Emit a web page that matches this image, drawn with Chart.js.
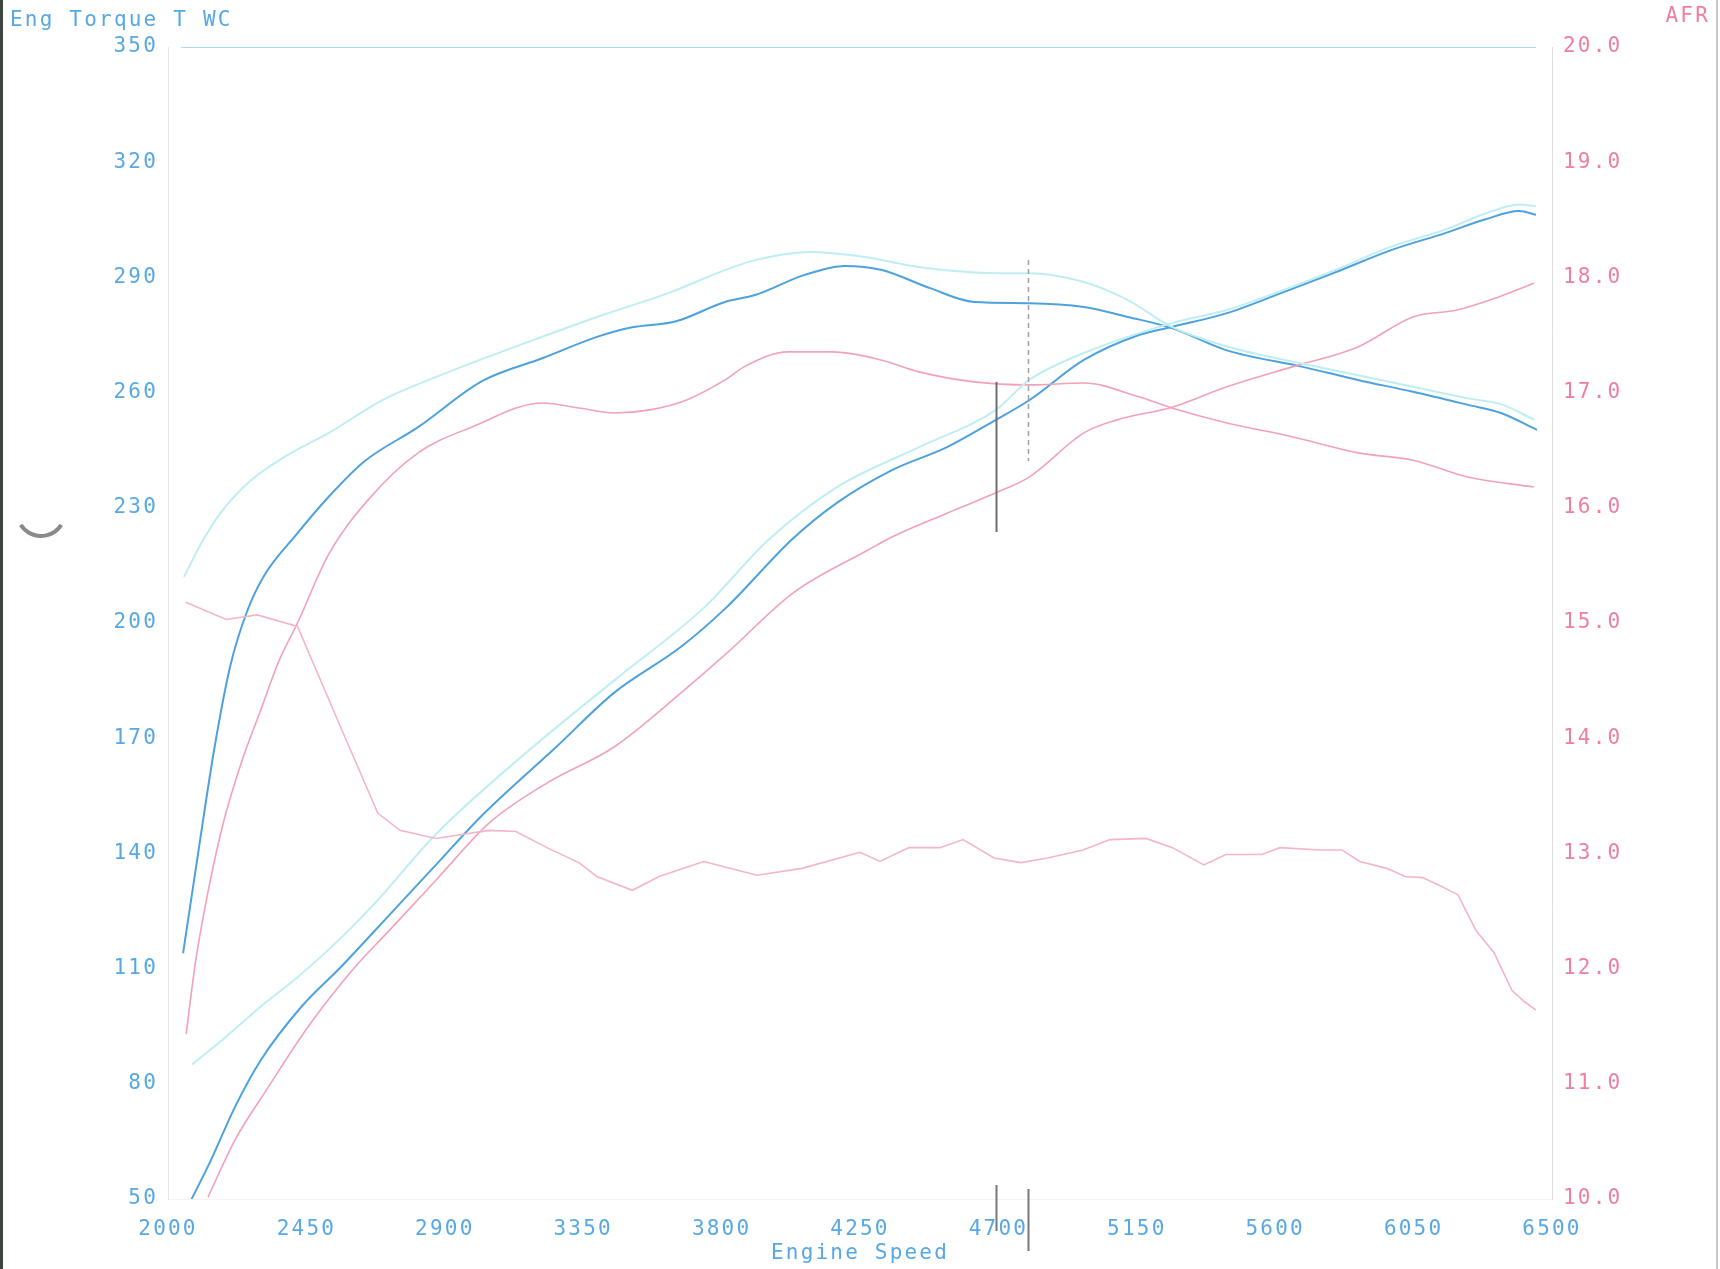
<!DOCTYPE html>
<html>
<head>
<meta charset="utf-8">
<script src="https://cdn.jsdelivr.net/npm/chart.js@4.4.0/dist/chart.umd.min.js"></script>
<style>
  html, body { margin: 0; padding: 0; background: #fff; }
  #wrap { position: relative; width: 1720px; height: 1269px; }
  canvas { display: block; }
</style>
</head>
<body>
<div id="wrap"><canvas id="c" width="1720" height="1269"></canvas></div>
<script>
// ---- axis ticks ----
const rpmTicks = [2000, 2450, 2900, 3350, 3800, 4250, 4700, 5150, 5600, 6050, 6500];
const torqueTicks = [50, 80, 110, 140, 170, 200, 230, 260, 290, 320, 350];
const afrTicks = [10, 11, 12, 13, 14, 15, 16, 17, 18, 19, 20];

// ---- run 1 (blue) torque ----
const torqueBlueRpm = [2049, 2096, 2150, 2203, 2257, 2310, 2417, 2524, 2637, 2813, 3021, 3219, 3395, 3509, 3649, 3811, 3909, 4068, 4201, 4318, 4478, 4621, 4800, 4978, 5121, 5264, 5443, 5690, 5869, 6048, 6227, 6334, 6451];
const torqueBlue = [114, 139, 167, 189, 203, 212, 223, 233, 242, 251, 263, 269, 274.5, 277, 278.5, 283.6, 285.4, 290.6, 293, 292, 287.2, 283.6, 283.3, 282.3, 279.7, 276.8, 271, 266.7, 263.3, 260.2, 256.8, 254.7, 250.3];

// ---- run 2 (light cyan) torque ----
const torqueCyanRpm = [2052, 2110, 2174, 2267, 2384, 2523, 2696, 2930, 3161, 3395, 3626, 3811, 3909, 4088, 4266, 4442, 4692, 4800, 4978, 5121, 5264, 5443, 5690, 5869, 6048, 6227, 6334, 6441];
const torqueCyan = [212, 221, 229, 237, 243.5, 249.5, 258, 265.9, 272.9, 279.7, 285.9, 291.9, 294.5, 296.6, 295.3, 292.7, 291.1, 291.1, 288.8, 284.1, 277.1, 272, 267.5, 264.5, 261.5, 258.5, 257, 253];

// ---- run 3 (pink) torque ----
const torquePinkRpm = [2059, 2090, 2130, 2180, 2240, 2300, 2360, 2421, 2523, 2650, 2813, 2987, 3219, 3336, 3451, 3567, 3684, 3811, 3873, 4016, 4159, 4318, 4442, 4621, 4800, 4978, 5157, 5264, 5443, 5655, 5869, 6048, 6227, 6441];
const torquePink = [93, 112, 130, 148, 164, 177, 190, 200, 218, 232, 244.3, 251, 257.3, 256, 254.7, 255.5, 258, 263.3, 266.7, 270.6, 270.6, 268.5, 265.4, 262.8, 262, 262.5, 258.9, 256, 252.1, 248.5, 244.3, 242.4, 238, 235.4];

// ---- run 1 (blue) power ----
const powerBlueRpm = [2075, 2140, 2218, 2302, 2433, 2562, 2667, 2748, 2871, 3016, 3262, 3450, 3668, 3815, 4032, 4175, 4354, 4533, 4692, 4800, 4978, 5157, 5264, 5443, 5619, 5798, 5977, 6155, 6279, 6393, 6448];
const powerBlue = [49.7, 60.2, 74, 86.2, 100, 110.4, 119.4, 126.4, 137, 149.5, 167.7, 181.8, 193.8, 204, 222, 231.3, 239.8, 245.8, 252.9, 258, 268.5, 275, 277.1, 280.7, 285.9, 291.4, 297.1, 301.6, 305, 307.3, 306.3];

// ---- run 2 (light cyan) power ----
const powerCyanRpm = [2078, 2185, 2300, 2420, 2543, 2672, 2871, 3161, 3450, 3743, 3950, 4175, 4442, 4692, 4800, 4978, 5264, 5443, 5619, 5798, 5977, 6155, 6279, 6393, 6448];
const powerCyan = [85, 92, 100, 107.7, 116.5, 127, 145, 166, 185, 204, 221.5, 235.4, 245.8, 255.5, 263.3, 270.3, 278.1, 281.5, 286.5, 292, 298, 302.5, 306.5, 309, 308.5];

// ---- run 3 (pink) power ----
const powerPinkRpm = [2130, 2218, 2325, 2455, 2608, 2712, 2790, 2871, 3044, 3232, 3450, 3668, 3815, 4032, 4276, 4354, 4533, 4692, 4800, 4978, 5086, 5264, 5443, 5655, 5869, 6048, 6191, 6298, 6441];
const powerPink = [50.5, 65.4, 79, 94.8, 110.4, 119.3, 126, 133, 147.9, 158.3, 167.7, 181.8, 192, 207.8, 219, 222.4, 228.6, 233.9, 238, 249.5, 252.9, 256.2, 261.5, 266.7, 271.9, 279.7, 281.5, 284.1, 288.5];

// ---- AFR (right axis) ----
const afrRpm = [2058, 2189, 2290, 2421, 2551, 2682, 2754, 2871, 3044, 3131, 3232, 3336, 3394, 3510, 3597, 3742, 3915, 4061, 4250, 4315, 4409, 4510, 4585, 4686, 4773, 4860, 4975, 5063, 5180, 5266, 5368, 5440, 5557, 5615, 5746, 5817, 5875, 5963, 6022, 6079, 6136, 6194, 6253, 6311, 6370, 6412, 6448];
const afr = [15.18, 15.03, 15.07, 14.97, 14.16, 13.35, 13.2, 13.13, 13.2, 13.19, 13.05, 12.92, 12.8, 12.68, 12.8, 12.93, 12.81, 12.87, 13.01, 12.93, 13.05, 13.05, 13.12, 12.96, 12.92, 12.96, 13.03, 13.12, 13.13, 13.05, 12.9, 12.99, 12.99, 13.05, 13.03, 13.03, 12.93, 12.87, 12.8, 12.79, 12.72, 12.64, 12.33, 12.14, 11.81, 11.71, 11.64];

// ---- top clipped trace ----
const ceilingRpm = [2042, 6448];
const ceiling = [350, 350];

// ---- cursors (rpm, torque range) ----
const cursorRpm = [4692, 4796];
const cursorLow = [223.7, 242.2];
const cursorHigh = [262.8, 294.5];

const BLUE = '#4da2de';
const CYAN = '#bfeef2';
const PINK = '#f2a2b8';
const AFRPINK = '#f4b5c6';
const TICKBLUE = '#58a8e4';
const TICKPINK = '#ee7f9f';
const FONT = "'DejaVu Sans Mono', 'Liberation Mono', monospace";
const SPACING = '2.2px';

function pts(xs, ys) { return xs.map((x, i) => ({ x: x, y: ys[i] })); }

function ds(label, xs, ys, color, width, axis, tension) {
  return {
    label: label, data: pts(xs, ys), borderColor: color, borderWidth: width,
    pointRadius: 0, fill: false, yAxisID: axis,
    tension: tension, cubicInterpolationMode: tension > 0 ? 'monotone' : 'default'
  };
}

const decor = {
  id: 'decor',
  beforeDraw(chart) {
    chart.ctx.letterSpacing = SPACING;
  },
  afterDraw(chart) {
    const ctx = chart.ctx;
    const xs = chart.scales.x, yl = chart.scales.yL;
    const ca = chart.chartArea;
    ctx.save();
    // cursor lines
    for (let i = 0; i < cursorRpm.length; i++) {
      const px = Math.round(xs.getPixelForValue(cursorRpm[i])) + 0.5;
      ctx.beginPath();
      ctx.strokeStyle = i === 0 ? '#6e6e6e' : '#a0a0a0';
      ctx.lineWidth = i === 0 ? 2 : 1.5;
      ctx.setLineDash(i === 0 ? [] : [5, 4]);
      ctx.moveTo(px, yl.getPixelForValue(cursorHigh[i]));
      ctx.lineTo(px, yl.getPixelForValue(cursorLow[i]));
      ctx.stroke();
      ctx.setLineDash([]);
      ctx.beginPath();
      ctx.strokeStyle = '#777';
      ctx.lineWidth = 2;
      ctx.moveTo(px, ca.bottom - 14 + i * 4);
      ctx.lineTo(px, ca.bottom + (i === 0 ? 32 : 52));
      ctx.stroke();
    }
    // titles
    ctx.letterSpacing = SPACING;
    ctx.font = '21px ' + FONT;
    ctx.textBaseline = 'middle';
    ctx.fillStyle = TICKBLUE;
    ctx.textAlign = 'left';
    ctx.fillText('Eng Torque T WC', 10, 21);
    ctx.textAlign = 'center';
    ctx.fillText('Engine Speed', 860, 1254);
    ctx.fillStyle = TICKPINK;
    ctx.textAlign = 'right';
    ctx.fillText('AFR', 1710, 17);
    // page edges
    ctx.fillStyle = '#3d443e';
    ctx.fillRect(0, 0, 3, 1269);
    ctx.fillStyle = '#c8c8c8';
    ctx.fillRect(1716, 0, 2, 1269);
    // small crescent artifact
    ctx.beginPath();
    ctx.strokeStyle = '#8a8a8a';
    ctx.lineWidth = 4;
    ctx.arc(41, 512, 24, 0.18 * Math.PI, 0.82 * Math.PI);
    ctx.stroke();
    ctx.restore();
  }
};

new Chart(document.getElementById('c'), {
  type: 'line',
  data: {
    datasets: [
      ds('Ceiling', ceilingRpm, ceiling, '#a9d9ef', 2, 'yL', 0),
      ds('AFR', afrRpm, afr, AFRPINK, 1.6, 'yR', 0),
      ds('Torque run 2', torqueCyanRpm, torqueCyan, CYAN, 2, 'yL', 0.4),
      ds('Power run 2', powerCyanRpm, powerCyan, CYAN, 2, 'yL', 0.4),
      ds('Torque run 3', torquePinkRpm, torquePink, PINK, 1.6, 'yL', 0.4),
      ds('Power run 3', powerPinkRpm, powerPink, PINK, 1.6, 'yL', 0.4),
      ds('Torque run 1', torqueBlueRpm, torqueBlue, BLUE, 2, 'yL', 0.4),
      ds('Power run 1', powerBlueRpm, powerBlue, BLUE, 2, 'yL', 0.4)
    ]
  },
  options: {
    responsive: false,
    animation: false,
    devicePixelRatio: 1,
    layout: { padding: { top: 47, left: 0, right: 0, bottom: 0 } },
    plugins: { legend: { display: false }, tooltip: { enabled: false } },
    scales: {
      x: {
        type: 'linear', min: 2000, max: 6500,
        grid: { display: false, drawTicks: false },
        border: { display: true, color: '#f3f3f3' },
        afterBuildTicks: s => { s.ticks = rpmTicks.map(v => ({ value: v })); },
        afterFit: s => { s.height = 70; },
        ticks: { color: TICKBLUE, font: { family: FONT, size: 21 }, padding: 18, maxRotation: 0, autoSkip: false, callback: v => String(v) }
      },
      yL: {
        type: 'linear', position: 'left', min: 50, max: 350,
        grid: { display: false, drawTicks: false },
        border: { display: true, color: '#e6e6e6' },
        afterBuildTicks: s => { s.ticks = torqueTicks.map(v => ({ value: v })); },
        afterFit: s => { s.width = 168; },
        ticks: { color: TICKBLUE, font: { family: FONT, size: 21 }, padding: 10, autoSkip: false, callback: v => String(v) }
      },
      yR: {
        type: 'linear', position: 'right', min: 10, max: 20,
        grid: { display: false, drawTicks: false },
        border: { display: true, color: '#dedede' },
        afterBuildTicks: s => { s.ticks = afrTicks.map(v => ({ value: v })); },
        afterFit: s => { s.width = 168; },
        ticks: { color: TICKPINK, font: { family: FONT, size: 21 }, padding: 11, autoSkip: false, callback: v => Number(v).toFixed(1) }
      }
    }
  },
  plugins: [decor]
});
</script>
</body>
</html>
